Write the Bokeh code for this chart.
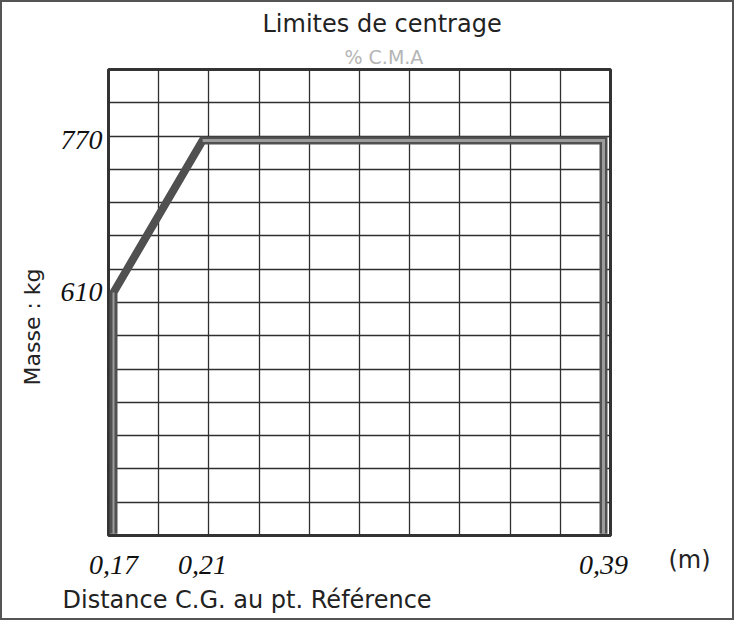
import numpy as np
from bokeh.plotting import figure
from bokeh.models import Range1d, FixedTicker, Label, Title
from bokeh.embed import file_html
from bokeh.resources import INLINE

# ---- data ----
cg_m = [0.17, 0.17, 0.21, 0.39, 0.39]          # distance C.G. (m)
mass_kg = [356, 610, 770, 770, 356]             # masse (kg)
x_ticks = [0.17, 0.21, 0.39]
x_tick_labels = ["0,17", "0,21", "0,39"]
y_ticks = [610, 770]
y_tick_labels = ["610", "770"]

x0, x1 = 0.167755, 0.393143
y0, y1 = 354.2, 844.7

p = figure(frame_width=502, frame_height=466, title=None,
           output_backend="svg", toolbar_location=None,
           x_range=Range1d(x0, x1), y_range=Range1d(y0, y1),
           min_border_left=106, min_border_right=122,
           min_border_top=67, min_border_bottom=83,
           background_fill_color="white", border_fill_color="white")
p.styles = {"border": "2px solid #555"}

# grid: 10 columns x 14 rows
p.xgrid.ticker = FixedTicker(ticks=list(np.linspace(x0, x1, 11)))
p.ygrid.ticker = FixedTicker(ticks=list(np.linspace(y0, y1, 15)))
for g in (p.xgrid, p.ygrid):
    g.grid_line_color = "#2f2f2f"
    g.grid_line_width = 1.3
    g.grid_line_alpha = 1.0

p.outline_line_color = "#333333"
p.outline_line_width = 3

# axes
p.xaxis.ticker = FixedTicker(ticks=x_ticks)
p.xaxis.major_label_overrides = dict(zip(x_ticks, x_tick_labels))
p.yaxis.ticker = FixedTicker(ticks=y_ticks)
p.yaxis.major_label_overrides = dict(zip(y_ticks, y_tick_labels))
for ax in (p.xaxis, p.yaxis):
    ax.axis_line_color = None
    ax.major_tick_line_color = None
    ax.minor_tick_line_color = None
    ax.major_label_text_font = "Liberation Serif"
    ax.major_label_text_font_style = "italic"
    ax.major_label_text_font_size = "28px"
    ax.major_label_text_color = "#111111"
p.xaxis.major_label_standoff = 14
p.yaxis.major_label_standoff = 0

# envelope
p.line(cg_m, mass_kg, line_color="#505050", line_width=8, line_join="miter")
p.line(cg_m[2:], mass_kg[2:], line_color="#9c9c9c", line_width=3, line_join="miter")
p.line(cg_m[:2], mass_kg[:2], line_color="#9c9c9c", line_width=2)

font = "DejaVu Sans"
p.add_layout(Title(text="% C.M.A", align="left", offset=236, standoff=4,
                   text_font=font, text_font_size="19px", text_font_style="normal",
                   text_color="#b5b5b5"), "above")
p.add_layout(Title(text="Limites de centrage", align="left", offset=154, standoff=8,
                   text_font=font, text_font_size="24px", text_font_style="normal",
                   text_color="#222222"), "above")
p.add_layout(Title(text="Masse : kg", align="left", offset=150, standoff=25,
                   text_font=font, text_font_size="22px", text_font_style="normal",
                   text_color="#222222"), "left")
# texts placed in side panels (screen px from the panel slot's lower-left corner)
p.add_layout(Label(x=-46, y=5, x_units="screen", y_units="screen",
                   text="Distance C.G. au pt. Référence", text_font=font,
                   text_font_size="24px", text_color="#222222",
                   text_align="left", text_baseline="middle"), "below")
p.add_layout(Label(x=79, y=-24, x_units="screen", y_units="screen",
                   text="(m)", text_font=font, text_font_size="24px",
                   text_color="#222222", text_align="center",
                   text_baseline="middle"), "right")

open("out.html", "w").write(file_html(p, INLINE))
